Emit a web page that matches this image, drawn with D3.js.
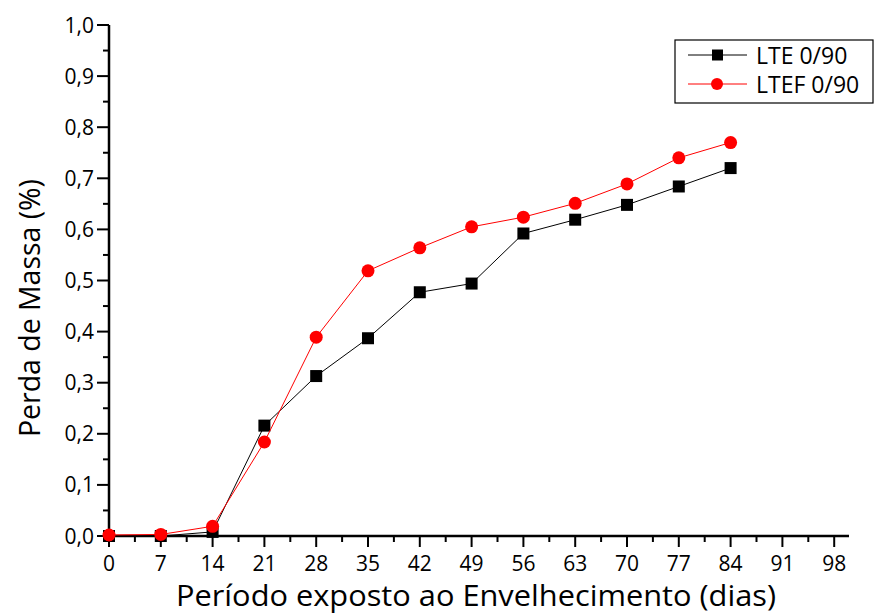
<!DOCTYPE html>
<html><head><meta charset="utf-8">
<script src="https://cdn.jsdelivr.net/npm/d3@7"></script>
<style>body{margin:0;background:#fff}svg{display:block}</style>
</head><body>
<script>
const days = [0, 7, 14, 21, 28, 35, 42, 49, 56, 63, 70, 77, 84];
const lte = [0, 0, 0.008, 0.216, 0.313, 0.387, 0.477, 0.494, 0.592, 0.619, 0.648, 0.684, 0.720];
const ltef = [0.002, 0.003, 0.019, 0.184, 0.389, 0.519, 0.564, 0.605, 0.624, 0.651, 0.689, 0.740, 0.770];
const xTicks = [0, 7, 14, 21, 28, 35, 42, 49, 56, 63, 70, 77, 84, 91, 98];
const yTicks = [0, 0.1, 0.2, 0.3, 0.4, 0.5, 0.6, 0.7, 0.8, 0.9, 1.0];
const seriesNames = ["LTE 0/90", "LTEF 0/90"];
const xTitle = "Período exposto ao Envelhecimento (dias)";
const yTitle = "Perda de Massa (%)";

const W = 875, H = 615;
const font = "'Open Sans', 'Noto Sans', sans-serif";
const svg = d3.select("body").append("svg").attr("width", W).attr("height", H)
  .style("font-family", font);

const x = d3.scaleLinear().domain([0, 100]).range([109, 849]);
const y = d3.scaleLinear().domain([0, 1]).range([536, 25]);
const fmt = d => d3.format(".1f")(d).replace(".", ",");

// X axis
const gx = svg.append("g").attr("transform", `translate(0,${y(0)})`);
gx.append("line").attr("x1", x(0)).attr("x2", x(100)).attr("stroke", "#000").attr("stroke-width", 2.5);
const xMinor = d3.range(3.5, 100, 7);
gx.selectAll(".xmin").data(xMinor).join("line")
  .attr("x1", d => x(d)).attr("x2", d => x(d)).attr("y1", 0).attr("y2", 6)
  .attr("stroke", "#000").attr("stroke-width", 2);
gx.selectAll(".xmaj").data(xTicks).join("line")
  .attr("x1", d => x(d)).attr("x2", d => x(d)).attr("y1", 0).attr("y2", 11)
  .attr("stroke", "#000").attr("stroke-width", 2);
gx.selectAll(".xlab").data(xTicks).join("text")
  .attr("x", d => x(d)).attr("y", 35).attr("text-anchor", "middle")
  .attr("font-size", 21).text(d => d);

// Y axis
const gy = svg.append("g").attr("transform", `translate(${x(0)},0)`);
gy.append("line").attr("y1", y(0)).attr("y2", y(1)).attr("stroke", "#000").attr("stroke-width", 2.5);
const yMinor = d3.range(0.05, 1, 0.1);
gy.selectAll(".ymin").data(yMinor).join("line")
  .attr("y1", d => y(d)).attr("y2", d => y(d)).attr("x1", 0).attr("x2", -6)
  .attr("stroke", "#000").attr("stroke-width", 2);
gy.selectAll(".ymaj").data(yTicks).join("line")
  .attr("y1", d => y(d)).attr("y2", d => y(d)).attr("x1", 0).attr("x2", -12)
  .attr("stroke", "#000").attr("stroke-width", 2);
gy.selectAll(".ylab").data(yTicks).join("text")
  .attr("x", -15).attr("y", d => y(d) + 7.5).attr("text-anchor", "end")
  .attr("font-size", 21).text(fmt);

// Titles
svg.append("text").attr("x", 476).attr("y", 606).attr("text-anchor", "middle")
  .attr("font-size", 29).attr("textLength", 600).attr("lengthAdjust", "spacingAndGlyphs")
  .text(xTitle);
svg.append("text").attr("transform", `translate(40,308) rotate(-90)`).attr("text-anchor", "middle")
  .attr("font-size", 29).attr("textLength", 258).attr("lengthAdjust", "spacingAndGlyphs")
  .text(yTitle);

// Lines
const line = d3.line().x((d, i) => x(days[i])).y(d => y(d));
svg.append("path").datum(lte).attr("d", line).attr("fill", "none").attr("stroke", "#000").attr("stroke-width", 1);
svg.selectAll(".sq").data(lte).join("rect")
  .attr("x", (d, i) => x(days[i]) - 6).attr("y", d => y(d) - 6)
  .attr("width", 12).attr("height", 12).attr("fill", "#000");
svg.append("path").datum(ltef).attr("d", line).attr("fill", "none").attr("stroke", "#ff0000").attr("stroke-width", 1);
svg.selectAll(".ci").data(ltef).join("circle")
  .attr("cx", (d, i) => x(days[i])).attr("cy", d => y(d)).attr("r", 6.5).attr("fill", "#ff0000");

// Legend
const lg = svg.append("g");
lg.append("rect").attr("x", 675).attr("y", 40).attr("width", 198).attr("height", 63)
  .attr("fill", "#fff").attr("stroke", "#000").attr("stroke-width", 1.2);
const rows = [
  {name: seriesNames[0], color: "#000", shape: "sq", ly: 55},
  {name: seriesNames[1], color: "#ff0000", shape: "ci", ly: 84}
];
rows.forEach(r => {
  lg.append("line").attr("x1", 688).attr("x2", 747).attr("y1", r.ly).attr("y2", r.ly)
    .attr("stroke", r.color).attr("stroke-width", 1);
  if (r.shape === "sq") lg.append("rect").attr("x", 712).attr("y", r.ly - 5.5).attr("width", 11).attr("height", 11).attr("fill", r.color);
  else lg.append("circle").attr("cx", 717).attr("cy", r.ly).attr("r", 6).attr("fill", r.color);
  lg.append("text").attr("x", 756).attr("y", r.ly + 8.5).attr("font-size", 23).text(r.name);
});
</script>
</body></html>
